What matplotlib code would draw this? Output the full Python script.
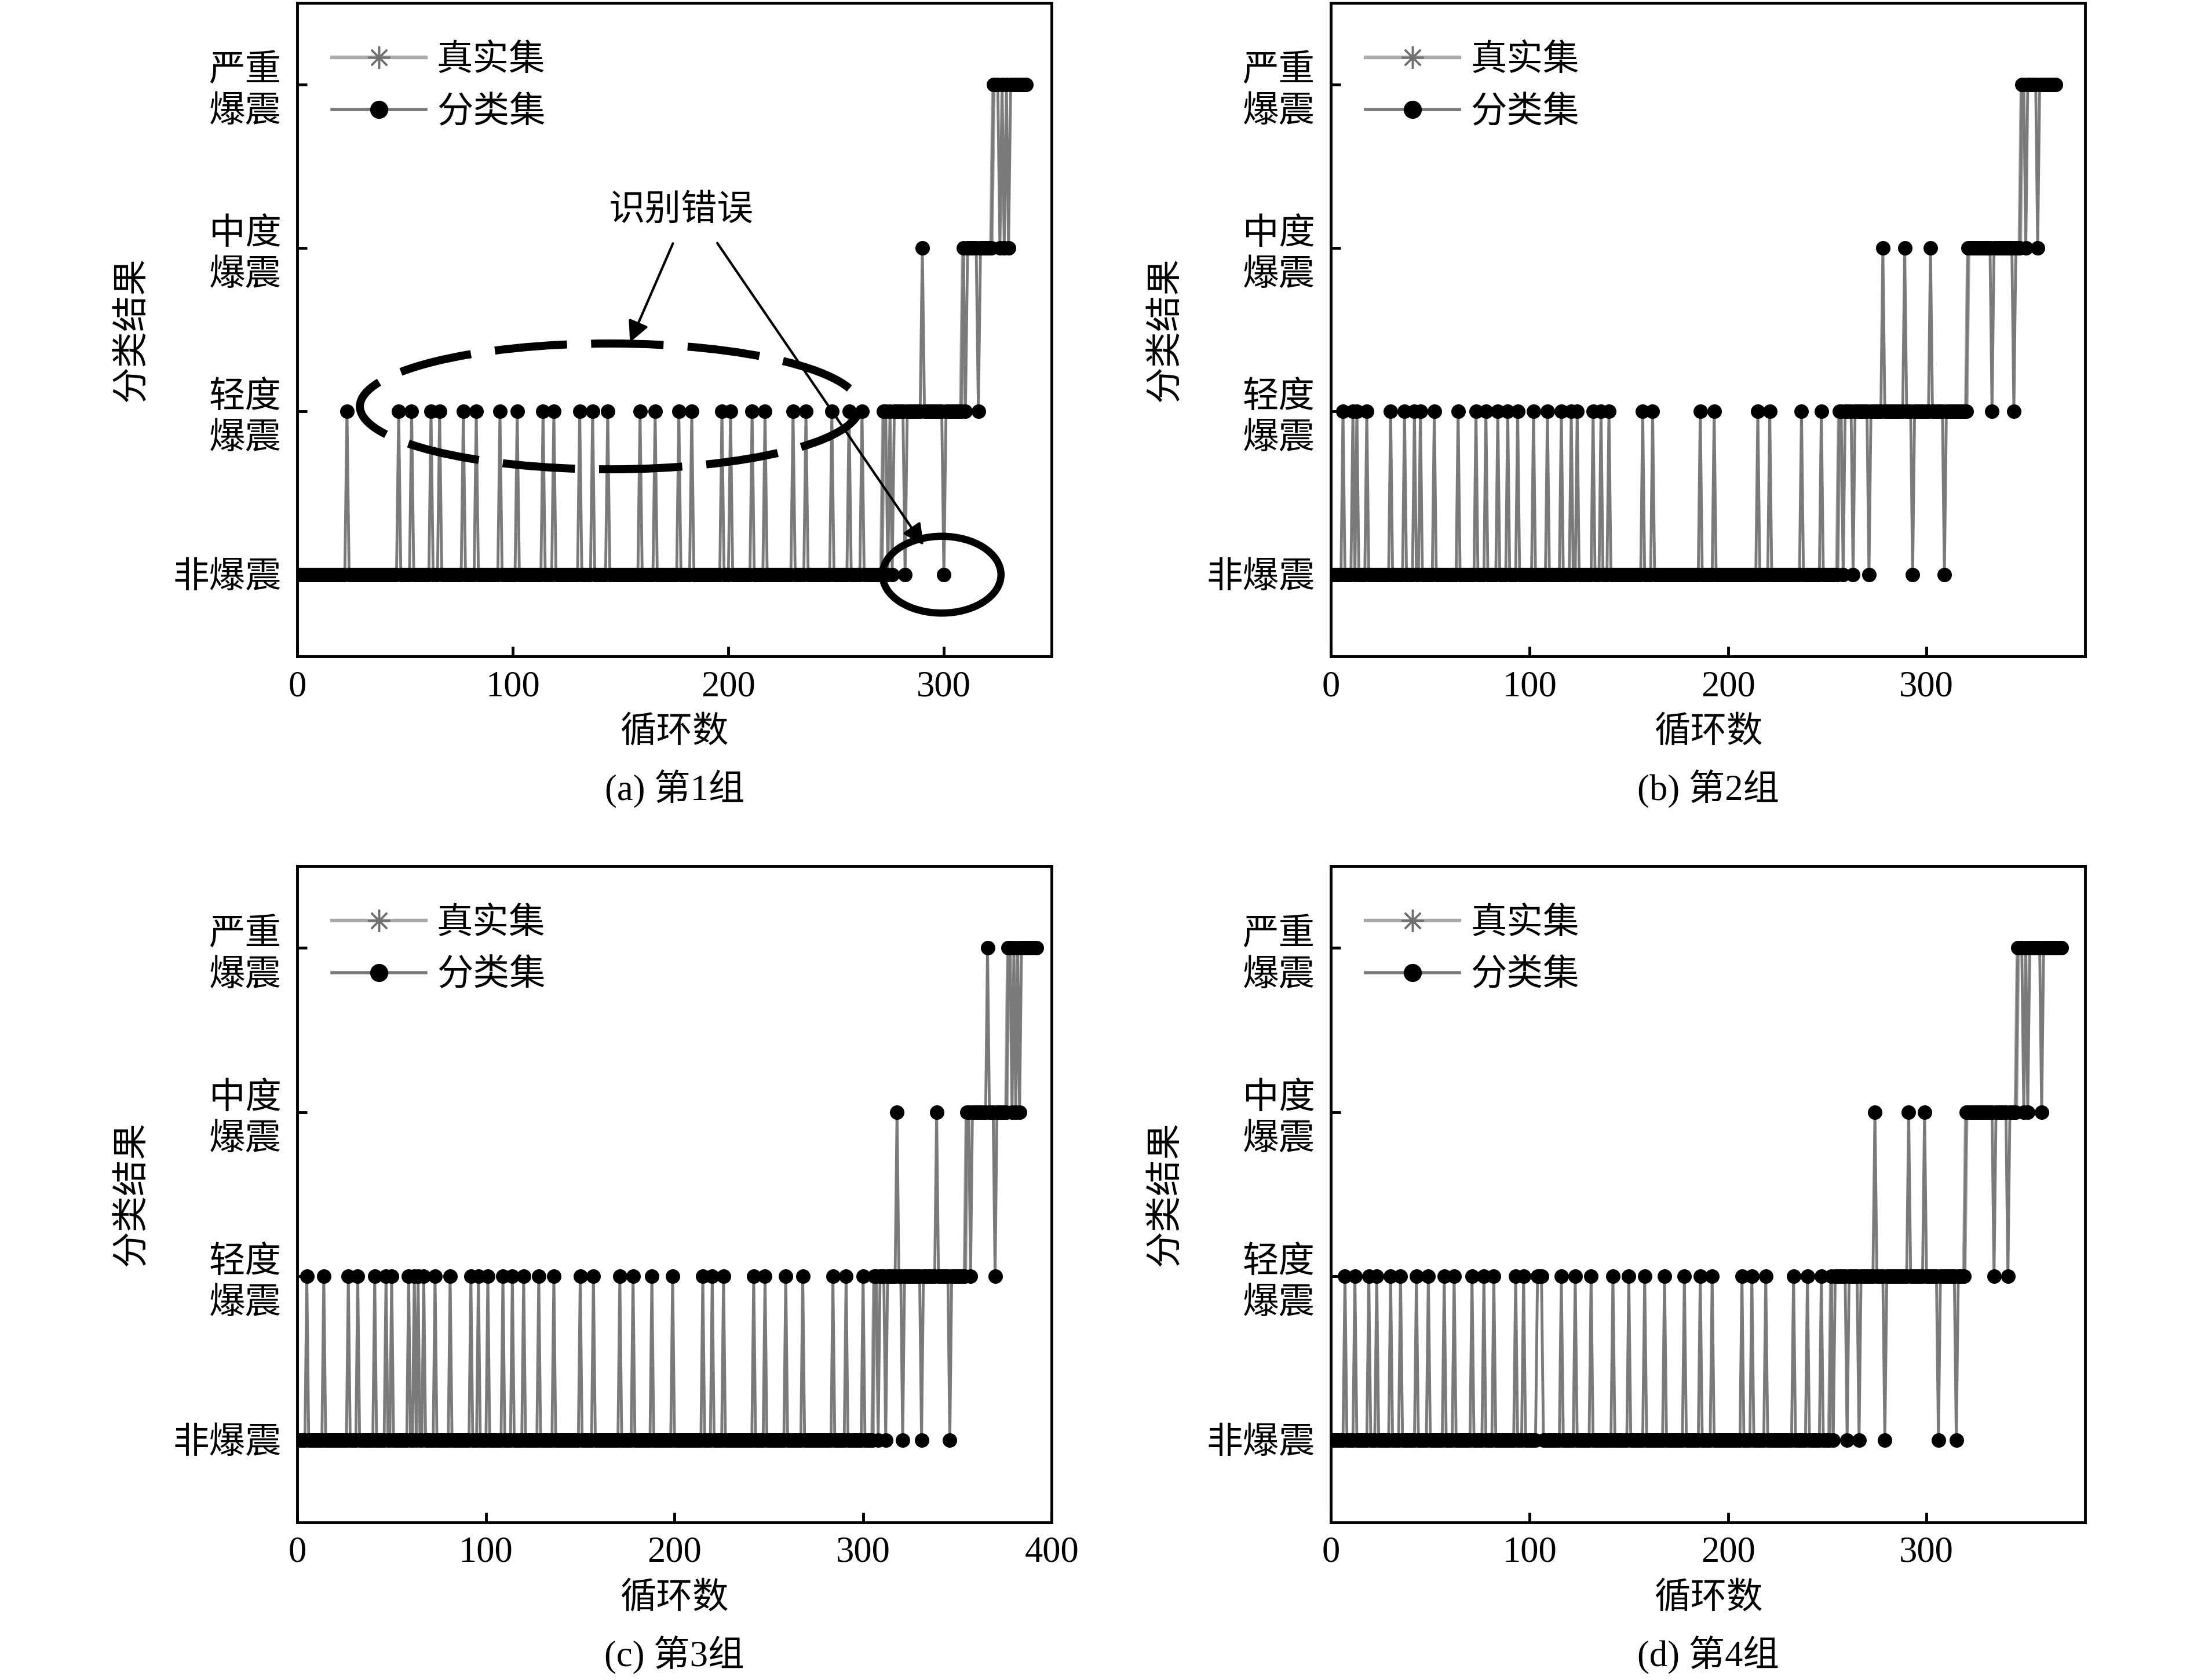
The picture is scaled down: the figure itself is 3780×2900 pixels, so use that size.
import numpy as np
import matplotlib.pyplot as plt
from matplotlib.patches import Ellipse
from matplotlib.lines import Line2D

plt.rcParams['font.family'] = ['Liberation Serif', 'Noto Sans CJK SC']

level_names = ['非爆震', '轻度\n爆震', '中度\n爆震', '严重\n爆震']
captions = ['(a) 第1组', '(b) 第2组', '(c) 第3组', '(d) 第4组']
x_max = [350, 380, 400, 380]
x_ticks = [[0, 100, 200, 300], [0, 100, 200, 300],
           [0, 100, 200, 300, 400], [0, 100, 200, 300]]

# group 1
cycles_a = 339
true_start_a = [0, 272, 309, 323]
spikes_a = [23, 47, 53, 62, 66, 77, 83, 94, 102, 114, 119, 131, 137, 144,
            159, 166, 177, 183, 197, 201, 211, 217, 230, 236, 248, 256, 262]
err0_a = [274, 276, 282, 300]
err1_a = [310, 316]
err2_a = [290, 326, 328, 330]
err3_a = []

# group 2
cycles_b = 366
true_start_b = [0, 256, 321, 348]
spikes_b = [6, 11, 13, 18, 30, 37, 42, 45, 52, 64, 73, 78, 84, 89, 94, 102,
            109, 116, 121, 124, 132, 136, 140, 157, 162, 186, 193, 215, 221,
            237, 247]
err0_b = [258, 263, 271, 293, 309]
err1_b = [333, 344]
err2_b = [278, 289, 302, 350, 356]
err3_b = []

# group 3
cycles_c = 393
true_start_c = [0, 306, 355, 377]
spikes_c = [5, 14, 27, 32, 41, 47, 50, 59, 62, 64, 67, 73, 81, 92, 96, 101,
            109, 114, 120, 128, 136, 150, 157, 171, 178, 188, 199, 215, 220,
            226, 242, 248, 259, 268, 284, 291, 300]
err0_c = [308, 312, 321, 331, 346]
err1_c = [357, 370]
err2_c = [318, 339, 379, 381, 383]
err3_c = [366]

# group 4
cycles_d = 369
true_start_d = [0, 252, 320, 346]
spikes_d = [7, 12, 19, 23, 30, 35, 43, 49, 57, 62, 71, 77, 82, 93, 97, 104,
            105, 106, 116, 123, 131, 142, 150, 158, 168, 178, 186, 192, 207,
            212, 219, 233, 240, 247]
err0_d = [253, 260, 266, 279, 306, 315]
err1_d = [334, 341]
err2_d = [274, 291, 299, 349, 351, 358]
err3_d = []

groups = [
    (cycles_a, true_start_a, [err0_a, spikes_a + err1_a, err2_a, err3_a]),
    (cycles_b, true_start_b, [err0_b, spikes_b + err1_b, err2_b, err3_b]),
    (cycles_c, true_start_c, [err0_c, spikes_c + err1_c, err2_c, err3_c]),
    (cycles_d, true_start_d, [err0_d, spikes_d + err1_d, err2_d, err3_d]),
]


def build(n, starts, errors):
    x = np.arange(n)
    true = np.zeros(n)
    for level, s in enumerate(starts):
        true[s:] = level
    cls = true.copy()
    for level, idx in enumerate(errors):
        cls[idx] = level
    return x, true, cls


fig = plt.figure(figsize=(15.12, 11.6), dpi=250)
positions = [[0.1358, 0.6093, 0.3444, 0.389], [0.6078, 0.6093, 0.3444, 0.389],
             [0.1358, 0.0939, 0.3444, 0.3907], [0.6078, 0.0939, 0.3444, 0.3907]]

true_color = '#a8a8a8'
cls_color = '#7a7a7a'

for k, (n, starts, errors) in enumerate(groups):
    ax = fig.add_axes(positions[k])
    x, true, cls = build(n, starts, errors)
    ax.plot(x, true, color=true_color, lw=2.2, marker=(8, 2, 0), ms=6,
            mec=true_color, zorder=2)
    ax.plot(x, cls, color=cls_color, lw=1.4, marker='o', ms=6.2,
            mfc='black', mec='black', zorder=3)

    ax.set_xlim(0, x_max[k])
    ax.set_ylim(-0.5, 3.5)
    ax.set_xticks(x_ticks[k])
    ax.set_yticks([0, 1, 2, 3])
    ax.set_yticklabels(level_names, fontsize=18, linespacing=1.3)
    ax.tick_params(axis='x', direction='in', length=5, width=1.4,
                   labelsize=18, pad=7)
    ax.tick_params(axis='y', direction='in', length=5, width=1.4, pad=8)
    for sp in ax.spines.values():
        sp.set_linewidth(1.4)

    ax.text(0.5, -0.117, '循环数', transform=ax.transAxes, fontsize=18,
            ha='center', va='center')
    ax.text(0.5, -0.203, captions[k], transform=ax.transAxes, fontsize=18,
            ha='center', va='center')
    ax.text(-0.2185, 0.5, '分类结果', transform=ax.transAxes, fontsize=18,
            ha='center', va='center', rotation=90)

    handles = [Line2D([], [], color=true_color, lw=1.8, marker=(8, 2, 0),
                      ms=11, mec='#707070'),
               Line2D([], [], color=cls_color, lw=1.6, marker='o', ms=8,
                      mfc='black', mec='black')]
    ax.legend(handles, ['真实集', '分类集'], loc='upper left',
              bbox_to_anchor=(0.012, 0.975), frameon=False, fontsize=18,
              handlelength=2.6, handletextpad=0.3, labelspacing=0.5,
              borderpad=0.2)

    if k == 0:
        ax.add_patch(Ellipse((145, 1.03), 232, 0.77, fill=False, lw=4,
                             ls=(0, (9, 3)), color='black', zorder=5))
        ax.add_patch(Ellipse((299, 0.0), 55, 0.47, fill=False, lw=3.6,
                             color='black', zorder=5))
        ax.text(178, 2.225, '识别错误', fontsize=18, ha='center', va='center')
        ax.annotate('', xy=(153.6, 1.40), xytext=(175, 2.05),
                    arrowprops=dict(arrowstyle='-|>', color='black', lw=1.2,
                                    mutation_scale=22), zorder=6)
        ax.annotate('', xy=(291.6, 0.16), xytext=(193.8, 2.05),
                    arrowprops=dict(arrowstyle='-|>', color='black', lw=1.2,
                                    mutation_scale=22), zorder=6)

fig.savefig('out.png', dpi=250)
